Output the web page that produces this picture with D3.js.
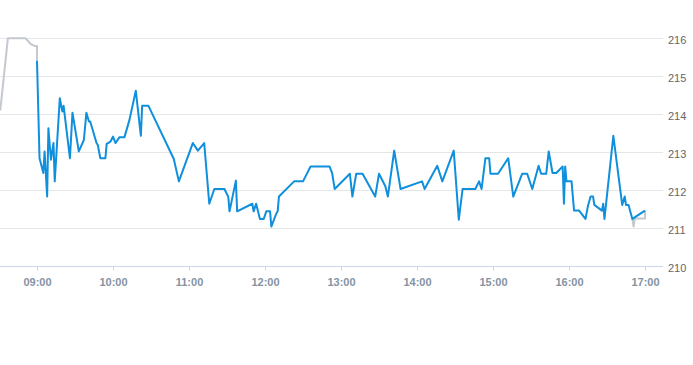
<!DOCTYPE html>
<html>
<head>
<meta charset="utf-8">
<script src="https://cdn.jsdelivr.net/npm/d3@7"></script>
<style>
  html, body { margin: 0; padding: 0; background: #fff; }
  svg { display: block; font-family: "Liberation Sans", Arial, sans-serif; }
  .grid line { stroke: #e6e6e6; stroke-width: 1; }
  .x-axis path, .x-axis line { stroke: #ccd6eb; }
  .x-axis text { fill: #8593a3; font-size: 11px; font-weight: bold; }
  .y-label { fill: #666; font-size: 11px; }
</style>
</head>
<body>
<div id="chart"></div>
<script>
var parseTime = d3.timeParse('%H:%M');

// pre-market (grey)
var preTimes  = ['08:31', '08:37', '08:51', '08:55', '08:58', '09:00', '09:00'];
var preValues = [214.1, 216.0, 216.0, 215.85, 215.8, 215.8, 215.41];

// regular session (blue)
var times = [
  '09:00', '09:02', '09:05', '09:06', '09:08', '09:09', '09:11', '09:13', '09:14', '09:18',
  '09:20', '09:21', '09:26', '09:28', '09:33', '09:37', '09:39', '09:41', '09:42', '09:47',
  '09:48', '09:50', '09:54', '09:55', '09:58', '10:00', '10:02', '10:05', '10:09', '10:13',
  '10:18', '10:22', '10:23', '10:28', '10:48', '10:52', '11:03', '11:07', '11:12', '11:16',
  '11:20', '11:28', '11:31', '11:32', '11:37', '11:38', '11:50', '11:51', '11:53', '11:56',
  '11:59', '12:01', '12:04', '12:05', '12:09', '12:10', '12:11', '12:23', '12:30', '12:36',
  '12:51', '12:53', '12:55', '13:07', '13:09', '13:12', '13:17', '13:27', '13:30', '13:35',
  '13:37', '13:42', '13:47', '14:04', '14:06', '14:16', '14:20', '14:29', '14:33', '14:36',
  '14:46', '14:49', '14:51', '14:54', '14:57', '14:58', '15:04', '15:12', '15:16', '15:23',
  '15:27', '15:31', '15:36', '15:38', '15:42', '15:44', '15:47', '15:50', '15:55', '15:56',
  '15:57', '15:58', '16:02', '16:04', '16:08', '16:13', '16:15', '16:17', '16:19', '16:20',
  '16:26', '16:27', '16:28', '16:35', '16:42', '16:44', '16:45', '16:47', '16:50', '17:00'
];
var values = [
  215.41, 212.84, 212.45, 213.02, 211.83, 213.63, 212.80, 213.24, 212.23, 214.42,
  214.07, 214.22, 212.84, 214.04, 213.02, 213.32, 214.04, 213.81, 213.81, 213.24,
  213.19, 212.84, 212.84, 213.22, 213.28, 213.41, 213.24, 213.39, 213.39, 213.85,
  214.62, 213.43, 214.22, 214.22, 212.82, 212.23, 213.24, 213.04, 213.24, 211.64,
  212.03, 212.03, 211.82, 211.44, 212.25, 211.44, 211.64, 211.44, 211.64, 211.24,
  211.24, 211.44, 211.44, 211.04, 211.39, 211.44, 211.83, 212.23, 212.23, 212.62,
  212.62, 212.45, 212.03, 212.43, 211.83, 212.43, 212.43, 211.83, 212.43, 212.10,
  211.83, 213.04, 212.03, 212.23, 212.03, 212.64, 212.23, 213.04, 211.22, 212.03,
  212.03, 212.23, 212.03, 212.84, 212.84, 212.43, 212.43, 212.84, 211.83, 212.43,
  212.43, 212.03, 212.64, 212.43, 212.43, 213.02, 212.45, 212.45, 212.62, 211.64,
  212.62, 212.23, 212.23, 211.46, 211.46, 211.24, 211.59, 211.83, 211.83, 211.61,
  211.46, 211.64, 211.24, 213.43, 211.61, 211.83, 211.61, 211.61, 211.24, 211.46
];

// after-hours (grey)
var postTimes  = ['16:50', '16:51', '16:52', '17:00', '17:00'];
var postValues = [211.24, 211.04, 211.25, 211.25, 211.46];

var xTicks = ['09:00', '10:00', '11:00', '12:00', '13:00', '14:00', '15:00', '16:00', '17:00'];
var yTicks = [210, 211, 212, 213, 214, 215, 216];

var width = 693, height = 365;
var plotRight = 663, axisY = 266, topY = 38.3;

var toPoints = function(ts, vs) {
  return ts.map(function(t, i) { return { t: parseTime(t), v: vs[i] }; });
};

var pre  = toPoints(preTimes, preValues);
var main = toPoints(times, values);
var post = toPoints(postTimes, postValues);

var x = d3.scaleTime()
  .domain([parseTime('09:00'), parseTime('17:00')])
  .range([37, 645]);

var y = d3.scaleLinear()
  .domain([210, 216])
  .range([axisY, topY]);

var svg = d3.select('#chart').append('svg')
  .attr('width', width)
  .attr('height', height);

svg.append('defs').append('clipPath')
  .attr('id', 'plot-clip')
  .append('rect')
  .attr('x', 0).attr('y', 0)
  .attr('width', plotRight).attr('height', axisY);

// grid lines
svg.append('g')
  .attr('class', 'grid')
  .selectAll('line')
  .data(yTicks.filter(function(d) { return d !== 210; }))
.enter().append('line')
  .attr('x1', 0)
  .attr('x2', plotRight)
  .attr('y1', function(d) { return Math.round(y(d)) + 0.5; })
  .attr('y2', function(d) { return Math.round(y(d)) + 0.5; });

// y labels on the right
svg.append('g')
  .selectAll('text')
  .data(yTicks)
.enter().append('text')
  .attr('class', 'y-label')
  .attr('x', 668)
  .attr('y', function(d) { return y(d); })
  .attr('dy', '0.55em')
  .text(function(d) { return d; });

// x axis
var xAxis = d3.axisBottom(x)
  .tickValues(xTicks.map(parseTime))
  .tickFormat(d3.timeFormat('%H:%M'))
  .tickSize(4)
  .tickSizeOuter(0)
  .tickPadding(8);

var gx = svg.append('g')
  .attr('class', 'x-axis')
  .attr('transform', 'translate(0,' + (Math.round(axisY) + 0.5) + ')')
  .call(xAxis);

gx.select('.domain').attr('d', 'M0,0H' + plotRight);

var line = d3.line()
  .x(function(d) { return x(d.t); })
  .y(function(d) { return y(d.v); });

var plot = svg.append('g').attr('clip-path', 'url(#plot-clip)');

plot.append('path')
  .datum(pre)
  .attr('fill', 'none')
  .attr('stroke', '#c3c9cf')
  .attr('stroke-width', 2)
  .attr('stroke-linejoin', 'round')
  .attr('d', line);

plot.append('path')
  .datum(post)
  .attr('fill', 'none')
  .attr('stroke', '#c3c9cf')
  .attr('stroke-width', 2)
  .attr('stroke-linejoin', 'round')
  .attr('d', line);

plot.append('path')
  .datum(main)
  .attr('fill', 'none')
  .attr('stroke', '#0f8fdc')
  .attr('stroke-width', 2)
  .attr('stroke-linejoin', 'round')
  .attr('d', line);
</script>
</body>
</html>
